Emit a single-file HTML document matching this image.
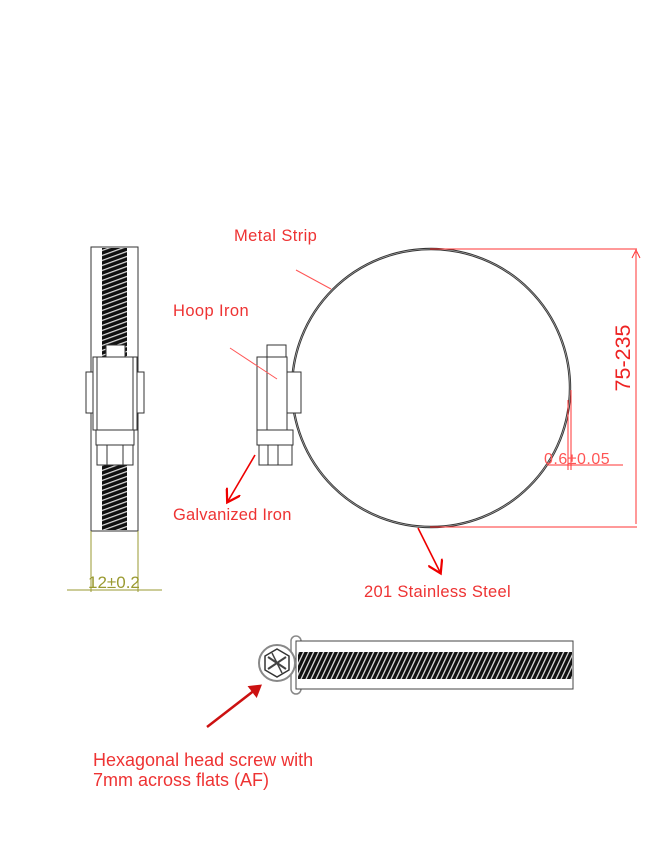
<!DOCTYPE html>
<html><head><meta charset="utf-8"><style>
html,body{margin:0;padding:0;background:#fff;}
svg{display:block;}
text{font-family:"Liberation Sans",sans-serif;}
</style></head><body>
<svg width="663" height="853" viewBox="0 0 663 853" xmlns="http://www.w3.org/2000/svg">
<defs>
<pattern id="spr" width="4" height="5" patternUnits="userSpaceOnUse" patternTransform="skewY(-20)">
<rect width="4" height="5" fill="#111"/>
<rect y="2" width="4" height="1.3" fill="#ddd"/>
</pattern>
<pattern id="spr2" width="5" height="4" patternUnits="userSpaceOnUse" patternTransform="skewX(-25)">
<rect width="5" height="4" fill="#111"/>
<rect x="2" width="1.4" height="4" fill="#ddd"/>
</pattern>
<marker id="ar" markerWidth="10" markerHeight="10" refX="7" refY="5" orient="auto"><path d="M0,0 L8,5 L0,10" fill="none" stroke="#e00" stroke-width="1.4"/></marker>
<marker id="af" markerWidth="6" markerHeight="6" refX="4" refY="3" orient="auto"><path d="M0,0 L5,3 L0,6 z" fill="#c11"/></marker>
</defs>

<!-- Left side view -->
<g stroke="#333" stroke-width="1" fill="#fff">
<rect x="91" y="247" width="47" height="284"/>
<rect x="102" y="248" width="25" height="282" fill="url(#spr)" stroke="none"/>
<rect x="106" y="345" width="19" height="12"/>
<rect x="86" y="372" width="7" height="41"/>
<rect x="137" y="372" width="7" height="41"/>
<rect x="93" y="357" width="44" height="73"/>
<line x1="97" y1="357" x2="97" y2="430"/><line x1="133" y1="357" x2="133" y2="430"/>
<rect x="96" y="430" width="38" height="15"/>
<rect x="97" y="445" width="36" height="20"/>
<line x1="107" y1="445" x2="107" y2="465"/><line x1="123" y1="445" x2="123" y2="465"/>
</g>
<g stroke="#9a9a30" stroke-width="1">
<line x1="91" y1="531" x2="91" y2="592"/><line x1="138" y1="531" x2="138" y2="592"/>
<line x1="67" y1="590" x2="162" y2="590"/>
</g>
<text x="88" y="588" font-size="17" fill="#9a9a30">12±0.2</text>

<!-- Circle view -->
<circle cx="431" cy="388" r="139" fill="none" stroke="#333" stroke-width="2.4"/>
<circle cx="431" cy="388" r="139" fill="none" stroke="#bbb" stroke-width="0.6"/>
<g stroke="#333" stroke-width="1" fill="#fff">
<rect x="267" y="345" width="19" height="12"/>
<rect x="257" y="357" width="30" height="73"/>
<line x1="267" y1="357" x2="267" y2="430"/>
<rect x="287" y="372" width="14" height="41"/>
<rect x="257" y="430" width="36" height="15"/>
<rect x="259" y="445" width="33" height="20"/>
<line x1="268" y1="445" x2="268" y2="465"/><line x1="278" y1="445" x2="278" y2="465"/>
</g>
<!-- dims red -->
<g stroke="#f33" stroke-width="1" fill="none">
<line x1="430" y1="249" x2="637" y2="249"/>
<line x1="430" y1="527" x2="637" y2="527"/>
<line x1="636" y1="252" x2="636" y2="524"/>
<path d="M632,258 L636,250 L640,258"/>
<line x1="571" y1="390" x2="571" y2="470"/>
<line x1="568" y1="400" x2="568" y2="470"/>
<line x1="547" y1="465" x2="623" y2="465"/>
</g>
<text transform="translate(630,358) rotate(-90)" font-size="21.5" fill="#e22" text-anchor="middle">75-235</text>
<text x="544" y="464" font-size="16" letter-spacing="0.5" fill="#f55">0.6±0.05</text>

<!-- labels -->
<text x="234" y="241" font-size="16.5" letter-spacing="0.4" fill="#e33">Metal Strip</text>
<line x1="296" y1="270" x2="331" y2="289" stroke="#f55" stroke-width="1"/>
<text x="173" y="316" font-size="16.5" letter-spacing="0.4" fill="#e33">Hoop Iron</text>
<line x1="230" y1="348" x2="277" y2="379" stroke="#f55" stroke-width="1"/>
<text x="173" y="520" font-size="16.5" letter-spacing="0.2" fill="#e33">Galvanized Iron</text>
<line x1="255" y1="455" x2="228" y2="501" stroke="#e00" stroke-width="1.6" marker-end="url(#ar)"/>
<text x="364" y="597" font-size="16.5" letter-spacing="0.3" fill="#e33">201 Stainless Steel</text>
<line x1="418" y1="528" x2="440" y2="572" stroke="#e00" stroke-width="1.6" marker-end="url(#ar)"/>

<!-- Bottom view -->
<g stroke="#444" stroke-width="1" fill="#fff">
<rect x="291" y="636" width="10" height="58" rx="5" stroke="#888" stroke-width="1.5"/>
<rect x="296" y="641" width="277" height="48"/>
<rect x="298" y="652" width="274" height="27" fill="url(#spr2)" stroke="none"/>
<circle cx="277" cy="663" r="18" stroke="#888" stroke-width="2"/>
<polygon points="277,649 289,656 289,670 277,677 265,670 265,656" stroke="#333" stroke-width="1.5"/>
<line x1="268" y1="657" x2="286" y2="669" stroke-width="2"/>
<line x1="268" y1="669" x2="286" y2="657" stroke-width="2"/>
<line x1="272" y1="653" x2="282" y2="673" stroke-width="1.5"/>
</g>
<line x1="207" y1="727" x2="260" y2="686" stroke="#c11" stroke-width="2.5" marker-end="url(#af)"/>
<text x="93" y="766" font-size="18" fill="#e33">Hexagonal head screw with</text>
<text x="93" y="786" font-size="18" fill="#e33">7mm across flats (AF)</text>
</svg>
</body></html>
